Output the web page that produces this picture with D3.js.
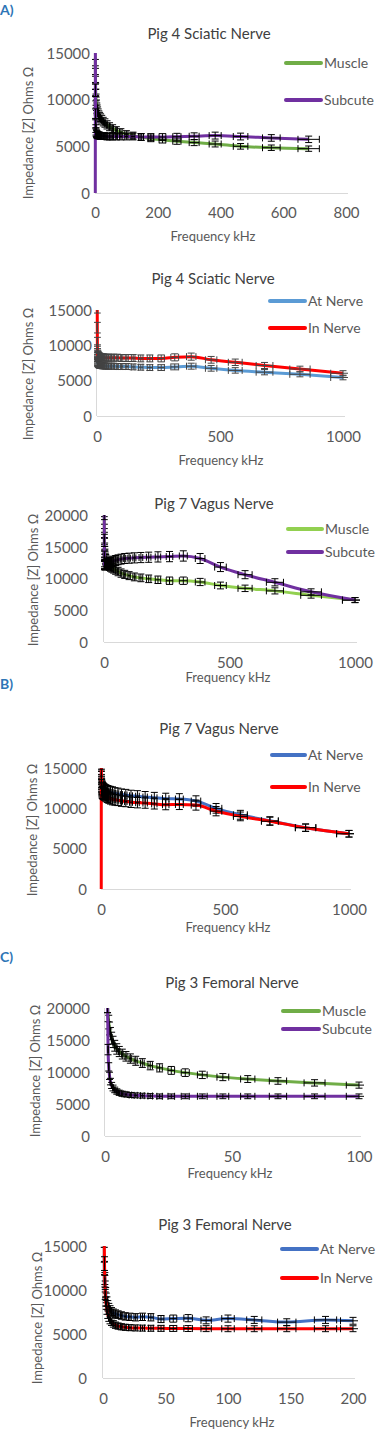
<!DOCTYPE html>
<html><head><meta charset="utf-8">
<script src="https://cdn.jsdelivr.net/npm/d3@7"></script>
<style>body{margin:0;background:#fff} svg{display:block} text{font-family:Lato,"Open Sans",sans-serif;font-weight:400}</style>
</head><body>
<svg id="c" width="377" height="1440"></svg>
<script>
// ---- data (frequency in kHz, impedance |Z| in ohms) ----
const freqs = [1,1.21,1.47,1.78,2.15,2.61,3.16,3.83,4.64,5.62,6.81,8.25,10,12.1,14.7,17.8,21.5,26.1,31.6,38.3,46.4,56.2,68.1,82.5,100,121,147,178,215,261,316,383,464,562,681,825,1000];
const freqsP1 = [1,1.21,1.47,1.78,2.15,2.61,3.16,3.83,4.64,5.62,6.81,8.25,10,12.1,14.7,17.8,21.5,26.1,31.6,38.3,46.4,56.2,68.1,82.5,100,121,147,178,215,261,316,383,464,562,681];
const freqsP5 = [1,1.21,1.47,1.78,2.15,2.61,3.16,3.83,4.64,5.62,6.81,8.25,10,12.1,14.7,17.8,21.5,26.1,31.6,38.3,46.4,56.2,68.1,82.5,100];
const freqsP6 = [1,1.21,1.47,1.78,2.15,2.61,3.16,3.83,4.64,5.62,6.81,8.25,10,12.1,14.7,17.8,21.5,26.1,31.6,38.3,46.4,56.2,68.1,82.5,100,121,147,178,200];

const p1Muscle  = [14500,13500,12600,11800,11100,10500,10000,9700,9400,9100,8900,8700,8500,8300,8150,8000,7850,7650,7500,7300,7100,6900,6700,6500,6300,6150,6000,5850,5700,5550,5400,5250,5000,4850,4750];
const p1Subcute = [0,16500,11000,8500,7400,6900,6600,6450,6350,6300,6250,6200,6200,6150,6150,6100,6100,6100,6100,6050,6050,6050,6050,6050,6050,6050,6000,6000,6000,6030,6080,6150,6050,5900,5750];

const p2AtNerve = [8500,8200,8000,7850,7700,7600,7500,7450,7400,7350,7300,7250,7200,7200,7150,7150,7100,7100,7100,7050,7050,7050,7050,7000,7000,7000,6950,6900,6850,6850,6950,7050,6750,6450,6200,5900,5450];
const p2InNerve = [15500,12500,10500,9500,9000,8800,8700,8600,8550,8500,8450,8400,8400,8350,8350,8300,8300,8300,8250,8250,8250,8250,8250,8250,8200,8200,8200,8150,8150,8150,8300,8400,7950,7600,7150,6650,6050];

const p3Muscle  = [21000,19000,17500,16300,15400,14700,14200,13800,13500,13200,13000,12800,12600,12450,12300,12150,12000,11850,11700,11550,11350,11100,10850,10650,10450,10250,10100,9950,9800,9650,9650,9450,8900,8450,8050,7350,6600];
const p3Subcute = [20500,16000,13500,12600,12300,12150,12100,12100,12100,12100,12150,12150,12200,12250,12300,12400,12450,12550,12650,12750,12850,12950,13050,13150,13200,13250,13300,13350,13400,13450,13550,13150,11800,10600,9400,7900,6600];

const p4AtNerve = [15500,14500,13800,13400,13100,12900,12750,12650,12550,12500,12450,12400,12350,12300,12250,12200,12150,12100,12050,12000,11950,11850,11800,11700,11650,11550,11500,11400,11300,11200,11150,10900,10000,9200,8450,7600,6850];
const p4InNerve = [0,16000,14000,13200,12800,12500,12300,12150,12000,11950,11900,11850,11800,11750,11700,11600,11500,11400,11300,11200,11100,11050,11000,10900,10850,10750,10700,10650,10550,10450,10480,10400,9650,9000,8400,7600,6850];

const p5Muscle  = [20500,19000,17800,16800,16000,15300,14700,14100,13600,13200,12800,12450,12100,11750,11400,11000,10650,10250,9900,9550,9200,8900,8600,8300,7950];
const p5Subcute = [20500,13500,10800,9400,8500,7900,7500,7200,6950,6750,6600,6500,6400,6350,6300,6250,6200,6200,6200,6200,6200,6200,6200,6200,6200];

const p6AtNerve = [14000,12500,11300,10400,9700,9100,8700,8300,8000,7750,7550,7400,7300,7200,7100,7000,6950,6900,6950,6900,6700,6750,6800,6550,6750,6600,6350,6600,6500];
const p6InNerve = [16000,13000,11000,9500,8700,8300,7700,7200,6850,6550,6350,6150,6000,5900,5820,5760,5720,5690,5670,5650,5640,5630,5620,5610,5600,5600,5600,5600,5600];

const titles = ["Pig 4 Sciatic Nerve","Pig 4 Sciatic Nerve","Pig 7 Vagus Nerve","Pig 7 Vagus Nerve","Pig 3 Femoral Nerve","Pig 3 Femoral Nerve"];
const xTickSets = [[0,200,400,600,800],[0,500,1000],[0,500,1000],[0,500,1000],[0,50,100],[0,50,100,150,200]];
const yTickSets = [[0,5000,10000,15000],[0,5000,10000,15000],[0,5000,10000,15000,20000],[0,5000,10000,15000],[0,5000,10000,15000,20000],[0,5000,10000,15000]];
const xMax = [800,1000,1000,1000,100,200];
const yMax = [15000,15000,20000,15000,20000,15000];
const xAxisTitle = "Frequency kHz";
const yAxisTitle = "Impedance [Z] Ohms Ω";
const errYPct = 0.06, errXPct = 0.05;

const GREEN="#70AD47", LGREEN="#92D050", PURPLE="#7030A0", LBLUE="#5B9BD5", BLUE="#4472C4", RED="#FF0000";

// ---- layout ----
const panels = [
 {xR:[95,346], yR:[193,53], tx:209, ty:34, yLabX:90, xLabY:213, yT:[28,133], xT:[213,236], leg:{x1:286,x2:321,tx:324,ys:[63,100]}, err:"#000",
  series:[{name:"Muscle",color:GREEN,f:freqsP1,v:p1Muscle},{name:"Subcute",color:PURPLE,f:freqsP1,v:p1Subcute}]},
 {xR:[97,343], yR:[416,310], tx:213, ty:279, yLabX:92, xLabY:437, yT:[28,374], xT:[221,460], leg:{x1:270,x2:305,tx:308,ys:[301,328]}, err:"#444",
  series:[{name:"At Nerve",color:LBLUE,f:freqs,v:p2AtNerve},{name:"In Nerve",color:RED,f:freqs,v:p2InNerve}]},
 {xR:[104,355], yR:[642,515], tx:214, ty:504, yLabX:88, xLabY:663, yT:[33,580], xT:[228,677], leg:{x1:288,x2:322,tx:325,ys:[529,552]}, err:"#000",
  series:[{name:"Muscle",color:LGREEN,f:freqs,v:p3Muscle},{name:"Subcute",color:PURPLE,f:freqs,v:p3Subcute}]},
 {xR:[101,349], yR:[889,768], tx:219, ty:729, yLabX:87, xLabY:910, yT:[32,830], xT:[228,927], leg:{x1:272,x2:305,tx:308,ys:[755,787]}, err:"#000",
  series:[{name:"At Nerve",color:BLUE,f:freqs,v:p4AtNerve},{name:"In Nerve",color:RED,f:freqs,v:p4InNerve}]},
 {xR:[105,359], yR:[1136,1008], tx:232, ty:983, yLabX:90, xLabY:1157, yT:[35,1071], xT:[230,1173], leg:{x1:283,x2:319,tx:322,ys:[1011,1029]}, err:"#000",
  series:[{name:"Muscle",color:GREEN,f:freqsP5,v:p5Muscle},{name:"Subcute",color:PURPLE,f:freqsP5,v:p5Subcute}]},
 {xR:[103,353], yR:[1378,1246], tx:225, ty:1225, yLabX:87, xLabY:1399, yT:[37,1318], xT:[232,1422], leg:{x1:282,x2:317,tx:320,ys:[1249,1278]}, err:"#000",
  series:[{name:"At Nerve",color:BLUE,f:freqsP6,v:p6AtNerve},{name:"In Nerve",color:RED,f:freqsP6,v:p6InNerve}]}
];
const letters = [{t:"A)",y:10},{t:"B)",y:684},{t:"C)",y:957}];

const svg = d3.select("#c");
const defs = svg.append("defs");

letters.forEach(l => svg.append("text").attr("x",0).attr("y",l.y).attr("dy","0.35em")
  .attr("font-size",14).style("font-weight","bold").attr("fill","#2E75B6").text(l.t));

panels.forEach((p,i) => {
  const x = d3.scaleLinear().domain([0,xMax[i]]).range(p.xR);
  const y = d3.scaleLinear().domain([0,yMax[i]]).range(p.yR);
  const g = svg.append("g");

  // title
  g.append("text").attr("x",p.tx).attr("y",p.ty).attr("dy","0.35em").attr("text-anchor","middle")
    .attr("font-size",15).attr("fill","#404040").text(titles[i]);

  // axes
  const xa = g.append("g").attr("transform",`translate(0,${p.yR[0]})`)
    .call(d3.axisBottom(x).tickValues(xTickSets[i]).tickSize(0).tickFormat(d3.format("d")));
  xa.select(".domain").attr("stroke","#D9D9D9").attr("d",`M${p.xR[0]},0.5H${p.xR[1]+2}`);
  xa.selectAll("text").attr("y",p.xLabY-p.yR[0]).attr("dy","0.35em")
    .attr("font-size",15).attr("fill","#595959");
  const ya = g.append("g").attr("transform",`translate(${p.xR[0]},0)`)
    .call(d3.axisLeft(y).tickValues(yTickSets[i]).tickSize(0).tickFormat(d3.format("d")));
  ya.select(".domain").attr("stroke","#D9D9D9").attr("d",`M-0.5,${p.yR[0]}V${p.yR[1]}`);
  ya.selectAll("text").attr("x",p.yLabX-p.xR[0]).attr("dy","0.35em")
    .attr("font-size",15).attr("fill","#595959");

  // axis titles
  g.append("text").attr("transform",`translate(${p.yT[0]},${p.yT[1]}) rotate(-90)`).attr("dy","0.35em")
    .attr("text-anchor","middle").attr("font-size",13).attr("fill","#595959").text(yAxisTitle);
  g.append("text").attr("x",p.xT[0]).attr("y",p.xT[1]).attr("dy","0.35em")
    .attr("text-anchor","middle").attr("font-size",13).attr("fill","#595959").text(xAxisTitle);

  // clip
  const cid = "clip"+i;
  defs.append("clipPath").attr("id",cid).append("rect")
    .attr("x",p.xR[0]-3).attr("y",p.yR[1]).attr("width",p.xR[1]-p.xR[0]+8).attr("height",p.yR[0]-p.yR[1]+1);
  const plot = g.append("g").attr("clip-path",`url(#${cid})`);

  const line = d3.line().x(d=>x(d[0])).y(d=>y(d[1])).curve(d3.curveMonotoneX);
  const cap = 3.5;
  p.series.forEach(s => {
    const pts = s.f.map((f,j)=>[f,s.v[j]]);
    plot.append("path").attr("d",line(pts)).attr("fill","none").attr("stroke",s.color)
      .attr("stroke-width",3).attr("stroke-linejoin","round");
    let d = "";
    pts.forEach(([f,v]) => {
      if (v <= 0) return;
      const cx = x(f), cy = y(v);
      const y1 = y(v*(1-errYPct)), y2 = y(v*(1+errYPct));
      const x1 = x(f*(1-errXPct)), x2 = x(f*(1+errXPct));
      d += `M${cx},${y1}V${y2}M${cx-cap},${y1}H${cx+cap}M${cx-cap},${y2}H${cx+cap}`;
      d += `M${x1},${cy}H${x2}M${x1},${cy-cap}V${cy+cap}M${x2},${cy-cap}V${cy+cap}`;
    });
    plot.append("path").attr("d",d).attr("fill","none").attr("stroke",p.err).attr("stroke-width",1);
  });

  // legend
  p.series.forEach((s,k) => {
    const ly = p.leg.ys[k];
    g.append("line").attr("x1",p.leg.x1).attr("x2",p.leg.x2).attr("y1",ly).attr("y2",ly)
      .attr("stroke",s.color).attr("stroke-width",4).attr("stroke-linecap","round");
    g.append("text").attr("x",p.leg.tx).attr("y",ly).attr("dy","0.35em")
      .attr("font-size",14).attr("fill","#595959").text(s.name);
  });
});
</script>
</body></html>
